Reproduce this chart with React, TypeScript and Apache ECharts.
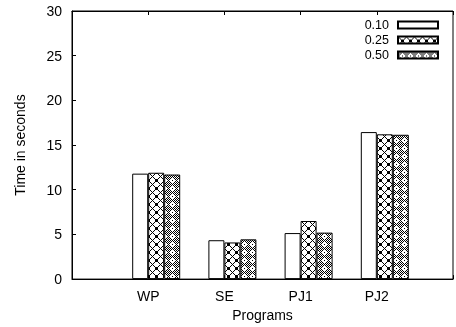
import React, { useEffect, useRef } from "react";
import * as echarts from "echarts";

const categories = ["WP", "SE", "PJ1", "PJ2"];
const seriesNames = ["0.10", "0.25", "0.50"];
const values010 = [11.8, 4.35, 5.15, 16.45];
const values025 = [11.9, 4.1, 6.5, 16.2];
const values050 = [11.7, 4.45, 5.2, 16.15];
const yTicks = { min: 0, max: 30, interval: 5 };

function makeTile(kind: "cross" | "dense"): HTMLCanvasElement {
  const n = 8;
  const c = document.createElement("canvas");
  c.width = n;
  c.height = n;
  const ctx = c.getContext("2d")!;
  ctx.fillStyle = "#fff";
  ctx.fillRect(0, 0, n, n);
  ctx.fillStyle = "#000";
  for (let y = 0; y < n; y++) {
    for (let x = 0; x < n; x++) {
      let on = false;
      const d = Math.abs(x - 4) + Math.abs(y - 4);
      if (kind === "cross") {
        on = x === y || x === (n - y) % n;
        if (d === 1) on = true;
      } else {
        on = (x + y) % 2 === 0 && (d === 0 || d === 4 || d >= 6);
      }
      if (on) ctx.fillRect(x, y, 1, 1);
    }
  }
  return c;
}

export default function App() {
  const ref = useRef<HTMLDivElement>(null);
  useEffect(() => {
    if (!ref.current) return;
    const chart = echarts.init(ref.current, null, { renderer: "svg" });
    const crossTile = makeTile("cross");
    const denseTile = makeTile("dense");
    const fills: any[] = [
      "#ffffff",
      { image: crossTile, repeat: "repeat", imageWidth: 8, imageHeight: 8 },
      { image: denseTile, repeat: "repeat", imageWidth: 8, imageHeight: 8 },
    ];
    const allValues = [values010, values025, values050];
    const axisData = ["", ...categories, ""];
    const font = "Liberation Sans";
    const barSeries = seriesNames.map((name, i) => ({
      name,
      type: "bar",
      barWidth: 16,
      barGap: "0%",
      data: ["-", ...allValues[i], "-"],
      itemStyle: { color: fills[i], borderColor: "#000", borderWidth: 1 },
    }));
    chart.setOption({
      animation: false,
      textStyle: { fontFamily: font, color: "#000" },
      grid: { left: 72, top: 11, width: 390, height: 271, show: true, borderColor: "#000", borderWidth: 1 },
      legend: {
        data: seriesNames,
        orient: "vertical",
        right: 12,
        top: 13,
        align: "right",
        icon: "rect",
        itemWidth: 40,
        itemHeight: 7,
        itemGap: 1,
        textStyle: { fontFamily: font, fontSize: 12.5, color: "#000", lineHeight: 14, padding: [0, 4, 0, 0] },
      },
      xAxis: [
        {
          type: "category",
          data: axisData,
          boundaryGap: false,
          axisLine: { lineStyle: { color: "#000" } },
          axisTick: { inside: true, length: 4, lineStyle: { color: "#000" } },
          axisLabel: { fontFamily: font, fontSize: 14, color: "#000", margin: 10 },
          name: "Programs",
          nameLocation: "middle",
          nameGap: 27,
          nameTextStyle: { fontFamily: font, fontSize: 14, color: "#000" },
        },
        {
          type: "category",
          data: axisData,
          boundaryGap: false,
          position: "top",
          axisLine: { lineStyle: { color: "#000" } },
          axisTick: { inside: true, length: 4, lineStyle: { color: "#000" } },
          axisLabel: { show: false },
        },
      ],
      yAxis: {
        type: "value",
        min: yTicks.min,
        max: yTicks.max,
        interval: yTicks.interval,
        axisLine: { show: true, lineStyle: { color: "#000" } },
        axisTick: { show: true, inside: true, length: 4, lineStyle: { color: "#000" } },
        axisLabel: { fontFamily: font, fontSize: 14, color: "#000", margin: 10 },
        splitLine: { show: false },
        name: "Time in seconds",
        nameLocation: "middle",
        nameGap: 45,
        nameTextStyle: { fontFamily: font, fontSize: 14, color: "#000" },
      },
      series: [
        { name: "gap", type: "bar", barWidth: 16, barGap: "0%", data: [] },
        ...barSeries,
      ],
    });
    return () => chart.dispose();
  }, []);
  return <div ref={ref} style={{ position: "fixed", left: 0, top: 0, width: 456, height: 327 }} />;
}
